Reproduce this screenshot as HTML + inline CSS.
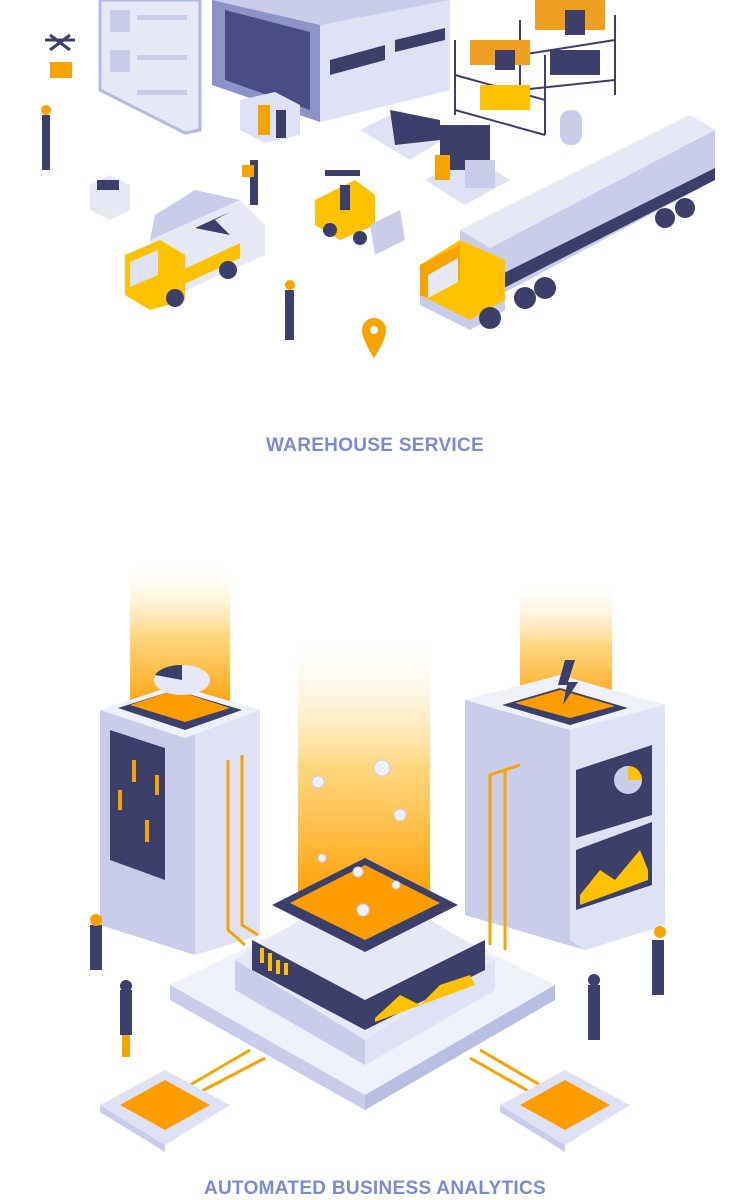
<!DOCTYPE html>
<html><head><meta charset="utf-8"><style>
html,body{margin:0;padding:0;background:#fff;width:750px;height:1190px;overflow:hidden}
.t{position:absolute;left:0;width:750px;text-align:center;font-family:"Liberation Sans",sans-serif;font-weight:bold;color:#7b8bd0;font-size:19px;letter-spacing:0.3px}
</style></head><body>
<svg width="750" height="1190" viewBox="0 0 750 1190" style="position:absolute;left:0;top:0">
<defs>
<linearGradient id="beam" x1="0" y1="1" x2="0" y2="0">
<stop offset="0" stop-color="#ff9d00"/><stop offset="0.5" stop-color="#ffc64a" stop-opacity="0.7"/><stop offset="1" stop-color="#fff" stop-opacity="0"/></linearGradient>
</defs>
<!-- ===== TOP ===== -->
<polygon points="100,0 200,0 200,130 185,133 100,90" fill="#e6e8f6" stroke="#b5bbe0" stroke-width="3"/>
<rect x="110" y="10" width="20" height="22" fill="#c9cdea"/><rect x="110" y="50" width="20" height="22" fill="#c9cdea"/>
<rect x="137" y="15" width="50" height="5" fill="#c9cdea"/><rect x="137" y="55" width="50" height="5" fill="#c9cdea"/><rect x="137" y="90" width="50" height="5" fill="#c9cdea"/>
<polygon points="212,0 450,0 450,90 320,122 212,85" fill="#c9cdea"/>
<polygon points="212,0 320,25 320,122 212,85" fill="#8d93c7"/>
<polygon points="225,10 310,32 310,110 225,80" fill="#4a4d85"/>
<polygon points="320,25 450,0 450,90 320,122" fill="#dfe2f4"/>
<polygon points="330,60 385,45 385,60 330,75" fill="#3d3f6b"/><polygon points="395,40 445,28 445,40 395,52" fill="#3d3f6b"/>
<polygon points="240,100 275,92 300,105 300,135 265,143 240,130" fill="#dfe2f4"/>
<rect x="258" y="105" width="12" height="30" fill="#f7a400"/><rect x="276" y="110" width="10" height="28" fill="#3d3f6b"/>
<g stroke="#3d3f6b" stroke-width="2" fill="none">
<path d="M455,40 L455,115 M520,20 L520,90 M545,55 L545,135 M615,15 L615,95 M455,75 L545,100 M455,110 L545,135 M520,55 L615,40 M520,90 L615,80"/></g>
<rect x="470" y="40" width="60" height="25" fill="#f0a020"/><rect x="495" y="50" width="20" height="20" fill="#3d3f6b"/>
<rect x="535" y="0" width="70" height="30" fill="#f0a020"/><rect x="565" y="10" width="20" height="25" fill="#3d3f6b"/>
<rect x="480" y="85" width="50" height="25" fill="#ffc200"/><rect x="550" y="50" width="50" height="25" fill="#3d3f6b"/>
<rect x="560" y="110" width="22" height="35" rx="10" fill="#c9cdea"/>
<polygon points="360,130 400,110 450,135 410,160" fill="#dfe2f4"/><polygon points="390,110 440,120 440,140 395,145" fill="#3d3f6b"/>
<polygon points="425,180 470,155 510,180 465,205" fill="#dfe2f4"/><rect x="440" y="125" width="50" height="45" fill="#3d3f6b"/><rect x="435" y="155" width="15" height="25" fill="#f7a400"/><rect x="465" y="160" width="30" height="28" fill="#c9cdea"/>
<polygon points="460,230 690,115 715,130 715,180 500,295 460,275" fill="#c9cdea"/>
<polygon points="460,230 690,115 715,130 490,248" fill="#e6e8f6"/>
<polygon points="500,275 715,168 715,180 500,290" fill="#3d3f6b"/>
<circle cx="665" cy="218" r="10" fill="#3d3f6b"/><circle cx="685" cy="208" r="10" fill="#3d3f6b"/>
<circle cx="545" cy="288" r="11" fill="#3d3f6b"/><circle cx="525" cy="298" r="11" fill="#3d3f6b"/>
<polygon points="420,265 460,240 505,260 505,305 470,325 420,305" fill="#ffc200"/>
<polygon points="420,265 460,245 460,280 420,300" fill="#f7a400"/>
<polygon points="428,275 458,258 458,282 428,298" fill="#e6e8f6"/>
<polygon points="420,305 470,330 505,310 505,300 470,320 420,295" fill="#c9cdea"/>
<circle cx="490" cy="318" r="11" fill="#3d3f6b"/>
<polygon points="150,240 240,200 265,225 265,255 175,295 150,270" fill="#e6e8f6"/>
<polygon points="150,240 240,200 195,190 155,215" fill="#c9cdea"/>
<polygon points="195,228 230,212 215,220 230,235" fill="#3d3f6b"/>
<polygon points="125,255 160,240 185,255 185,300 150,310 125,295" fill="#ffc200"/>
<polygon points="130,262 158,250 158,275 130,287" fill="#dfe2f4"/>
<rect x="185" y="265" width="55" height="15" fill="#ffc200" transform="skewY(-25) translate(0,90)"/>
<circle cx="175" cy="298" r="9" fill="#3d3f6b"/><circle cx="228" cy="270" r="9" fill="#3d3f6b"/>
<polygon points="315,200 355,180 375,195 375,225 340,240 315,225" fill="#ffc200"/>
<rect x="325" y="170" width="35" height="6" fill="#3d3f6b"/><rect x="340" y="185" width="10" height="25" fill="#3d3f6b"/>
<polygon points="370,225 400,210 405,240 375,255" fill="#c9cdea"/>
<circle cx="330" cy="230" r="7" fill="#3d3f6b"/><circle cx="360" cy="238" r="7" fill="#3d3f6b"/>
<path d="M45,40 L75,40 M50,35 L70,50 M70,35 L50,50" stroke="#3d3f6b" stroke-width="3"/>
<rect x="50" y="62" width="22" height="16" fill="#f7a400"/>
<polygon points="90,185 110,175 130,185 130,210 110,220 90,210" fill="#e6e8f6"/><rect x="97" y="180" width="22" height="10" fill="#3d3f6b"/>
<g fill="#3d3f6b"><rect x="42" y="115" width="8" height="55"/><circle cx="46" cy="110" r="5" fill="#f7a400"/>
<rect x="250" y="160" width="8" height="45"/><rect x="242" y="165" width="12" height="12" fill="#f7a400"/>
<rect x="285" y="290" width="9" height="50"/><circle cx="290" cy="285" r="5" fill="#f7a400"/></g>
<path d="M374,318 a12,12 0 0 1 12,12 c0,10 -12,28 -12,28 c0,0 -12,-18 -12,-28 a12,12 0 0 1 12,-12z" fill="#f7a400"/><circle cx="374" cy="330" r="4" fill="#fff"/>

<!-- ===== BOTTOM ===== -->
<rect x="130" y="560" width="100" height="150" fill="url(#beam)"/>
<rect x="520" y="580" width="92" height="130" fill="url(#beam)"/>
<rect x="298" y="630" width="132" height="270" fill="url(#beam)"/>
<polygon points="100,710 175,685 260,710 260,935 195,955 100,925" fill="#c9cdea"/>
<polygon points="195,730 260,710 260,935 195,955" fill="#dfe2f4"/>
<polygon points="100,710 175,685 260,710 185,738" fill="#eef0fa"/>
<polygon points="118,708 175,690 242,710 185,730" fill="#3d3f6b"/>
<polygon points="130,705 175,690 230,708 185,722" fill="#ff9d00"/>
<ellipse cx="182" cy="680" rx="28" ry="15" fill="#e6e8f6"/><path d="M182,680 L155,675 A28,15 0 0 1 182,665Z" fill="#3d3f6b"/>
<polygon points="110,730 165,748 165,880 110,860" fill="#3d3f6b"/>
<g fill="#f7a400"><rect x="118" y="790" width="4" height="20"/><rect x="132" y="760" width="4" height="22"/><rect x="145" y="820" width="4" height="22"/><rect x="155" y="775" width="4" height="20"/></g>
<polygon points="465,700 560,675 665,705 665,925 585,950 465,915" fill="#c9cdea"/>
<polygon points="570,730 665,705 665,925 585,950 570,940" fill="#dfe2f4"/>
<polygon points="465,700 560,675 665,705 570,730" fill="#eef0fa"/>
<polygon points="502,705 560,688 628,708 570,725" fill="#3d3f6b"/>
<polygon points="515,703 560,690 615,706 570,718" fill="#ff9d00"/>
<polygon points="565,660 575,660 568,682 578,682 563,705 567,685 558,685" fill="#3d3f6b"/>
<polygon points="576,770 652,745 652,815 576,838" fill="#3d3f6b"/>
<circle cx="628" cy="780" r="14" fill="#c9cdea"/><path d="M628,780 L628,766 A14,14 0 0 1 642,780Z" fill="#ffc200"/>
<polygon points="576,850 652,822 652,885 576,910" fill="#3d3f6b"/>
<polygon points="580,895 600,870 615,880 640,850 648,870 648,880 580,905" fill="#ffc200"/>
<g stroke="#f7a400" stroke-width="3" fill="none">
<path d="M228,760 L228,930 L245,945 M242,755 L242,925 L258,935"/>
<path d="M505,770 L490,775 L490,945 M520,765 L505,770 L505,950"/>
<path d="M190,1085 L250,1050 M200,1092 L265,1058 M480,1050 L540,1085 M470,1058 L530,1092"/></g>
<!-- base -->
<polygon points="170,985 365,890 555,985 555,1000 365,1110 170,1000" fill="#dfe2f4"/>
<polygon points="170,985 365,890 555,985 365,1095" fill="#eef0fa"/>
<polygon points="170,985 365,1095 365,1110 170,1000" fill="#c9cdea"/>
<polygon points="555,985 555,1000 365,1110 365,1095" fill="#b9bfe3"/>
<!-- pedestal -->
<polygon points="235,960 365,880 495,960 495,990 365,1065 235,990" fill="#c9cdea"/>
<polygon points="235,960 365,880 495,960 365,1040" fill="#e6e8f6"/>
<polygon points="365,1040 495,960 495,990 365,1065" fill="#dfe2f4"/>
<polygon points="272,905 365,858 458,905 365,952" fill="#3d3f6b"/>
<polygon points="290,903 365,865 440,903 365,940" fill="#ff9d00"/>
<polygon points="252,940 365,1000 365,1030 252,970" fill="#3d3f6b"/>
<polygon points="365,1000 485,940 485,970 365,1030" fill="#3d3f6b"/>
<polygon points="375,1018 400,995 420,1005 440,985 470,975 475,985 375,1022" fill="#ffc200"/>
<g fill="#ffc200"><rect x="260" y="948" width="4" height="15"/><rect x="268" y="953" width="4" height="18"/><rect x="276" y="960" width="4" height="14"/><rect x="284" y="963" width="4" height="12"/></g>
<g fill="#eef0fa" stroke="#c9cdea"><circle cx="318" cy="782" r="6"/><circle cx="382" cy="768" r="8"/><circle cx="400" cy="815" r="6"/><circle cx="358" cy="872" r="5"/><circle cx="322" cy="858" r="4"/><circle cx="396" cy="885" r="4"/><circle cx="363" cy="910" r="6"/></g>
<polygon points="100,1105 165,1070 230,1105 165,1145" fill="#dfe2f4"/>
<polygon points="100,1105 165,1145 165,1152 100,1112" fill="#c9cdea"/>
<polygon points="120,1105 165,1080 210,1105 165,1130" fill="#ff9d00"/>
<polygon points="500,1105 565,1070 630,1105 565,1145" fill="#dfe2f4"/>
<polygon points="500,1105 565,1145 565,1152 500,1112" fill="#c9cdea"/>
<polygon points="520,1105 565,1080 610,1105 565,1130" fill="#ff9d00"/>
<g fill="#3d3f6b">
<rect x="90" y="925" width="12" height="45"/><circle cx="96" cy="920" r="6" fill="#f7a400"/>
<rect x="120" y="990" width="12" height="45"/><circle cx="126" cy="986" r="6"/><rect x="122" y="1035" width="8" height="22" fill="#f7a400"/>
<rect x="588" y="985" width="12" height="55"/><circle cx="594" cy="980" r="6"/>
<rect x="652" y="940" width="12" height="55"/><circle cx="660" cy="932" r="6" fill="#f7a400"/></g>
</svg>
<div class="t" style="top:435px">WAREHOUSE SERVICE</div>
<div class="t" style="top:1178px">AUTOMATED BUSINESS ANALYTICS</div>
</body></html>
